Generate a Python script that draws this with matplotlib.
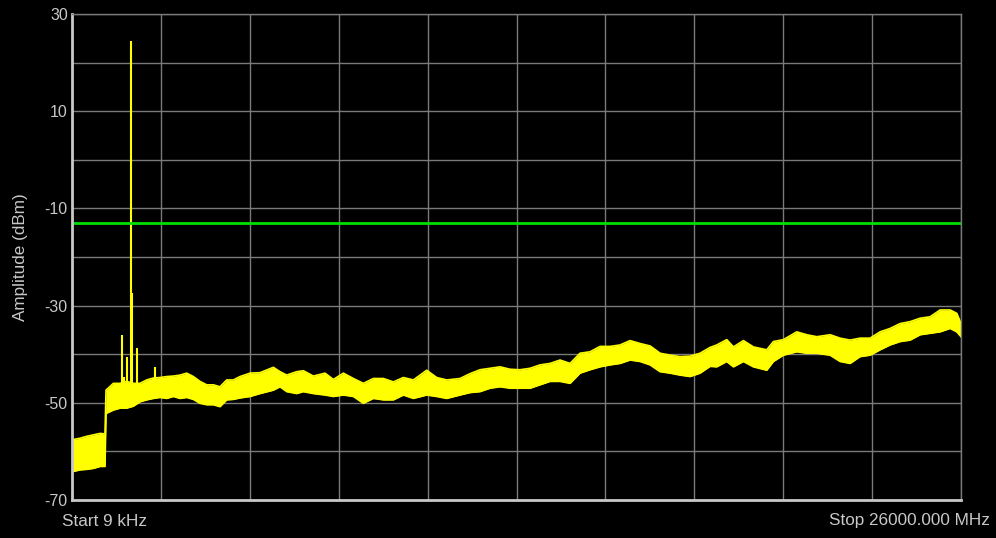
import numpy as np
import matplotlib.pyplot as plt

plt.rcParams['font.family'] = ['Liberation Sans', 'DejaVu Sans']

# trace envelope (MHz, dBm)
freq_mhz = [0.009, 234, 429, 624, 819, 965, 995, 1209, 1404, 1599, 1794, 1989, 2184,
            2379, 2574, 2769, 2964, 3159, 3354, 3549, 3744, 3939, 4134, 4329, 4524,
            4719, 4914, 5207, 5499, 5889, 6084, 6279, 6571, 6766, 7059, 7400, 7644,
            7936, 8229, 8521, 8814, 9106, 9399, 9691, 9984, 10374, 10666, 10959,
            11349, 11642, 11934, 12227, 12519, 12812, 13104, 13397, 13689, 13982,
            14274, 14567, 14859, 15152, 15444, 15737, 16029, 16322, 16614, 16907,
            17199, 17492, 17784, 18077, 18369, 18662, 18857, 19149, 19344, 19637,
            19929, 20319, 20514, 20807, 21197, 21489, 21782, 22172, 22464, 22757,
            23049, 23342, 23634, 23927, 24219, 24512, 24804, 25097, 25389, 25682,
            25877, 26000]
upper_dbm = [-57.6, -57.3, -56.9, -56.6, -56.3, -56.4, -47.4, -46.0, -46.0, -45.6, -46.0,
             -46.0, -45.3, -44.9, -44.8, -44.6, -44.5, -44.3, -43.9, -44.6, -45.6, -46.3,
             -46.3, -46.7, -45.3, -45.3, -44.6, -43.9, -43.8, -42.7, -43.6, -44.3, -43.6,
             -43.4, -44.5, -43.9, -45.2, -43.9, -45.0, -46.0, -45.0, -45.0, -45.7, -44.8,
             -45.3, -43.3, -44.8, -45.3, -45.0, -44.0, -43.2, -42.9, -42.6, -43.1, -43.2,
             -42.9, -42.2, -41.9, -41.2, -41.9, -39.8, -39.5, -38.4, -38.4, -38.1, -37.2,
             -37.8, -38.3, -39.8, -40.2, -40.5, -40.4, -39.8, -38.6, -38.1, -37.0, -38.5,
             -37.2, -38.5, -39.1, -37.4, -37.0, -35.4, -36.0, -36.4, -36.0, -36.7, -37.1,
             -36.7, -36.7, -35.4, -34.7, -33.7, -33.3, -32.6, -32.3, -30.9, -30.9, -31.6,
             -33.7]
lower_dbm = [-64.2, -63.8, -63.7, -63.5, -63.1, -63.1, -52.2, -51.5, -51.1, -51.1, -50.7,
             -49.8, -49.4, -49.1, -48.9, -49.1, -48.7, -49.1, -48.9, -49.3, -50.1, -50.4,
             -50.4, -50.8, -49.4, -49.3, -49.0, -48.7, -48.1, -47.4, -46.7, -47.7, -48.1,
             -47.7, -48.1, -48.4, -48.7, -48.4, -48.7, -50.1, -49.1, -49.4, -49.4, -48.4,
             -49.1, -48.4, -48.7, -49.1, -48.4, -47.9, -47.7, -47.0, -46.7, -47.0, -47.0,
             -47.0, -46.3, -45.6, -45.6, -46.0, -43.9, -43.2, -42.6, -42.2, -41.9, -41.2,
             -41.5, -42.2, -43.6, -43.9, -44.3, -44.6, -43.9, -42.5, -42.6, -41.5, -42.6,
             -41.5, -42.6, -43.3, -41.5, -40.2, -39.5, -39.8, -39.8, -40.2, -41.5, -41.9,
             -40.5, -40.2, -39.1, -38.1, -37.4, -37.1, -36.0, -35.7, -35.4, -34.7, -35.4,
             -36.4]

# discrete spurs
spur_mhz = [1370, 1460, 1530, 1600, 1726, 1745, 1892, 2440]
spur_dbm = [-45.9, -36.0, -44.6, -40.5, 24.4, -27.4, -38.8, -42.6]

limit_dbm = -13.0
f_start, f_stop = 0.009, 26000.0
y_ticks = [30, 10, -10, -30, -50, -70]

fig = plt.figure(figsize=(9.96, 5.38), dpi=100, facecolor='black')
ax = fig.add_axes([72 / 996, 38 / 538, 889 / 996, 486 / 538], facecolor='black')

yellow = '#ffff00'
ax.fill_between(freq_mhz, lower_dbm, upper_dbm, color=yellow, lw=0)
ax.plot(freq_mhz, upper_dbm, color=yellow, lw=1.2)
ax.plot(freq_mhz, lower_dbm, color=yellow, lw=1.2)
ax.vlines(spur_mhz, -48, spur_dbm, color=yellow, lw=1.5)

ax.axhline(limit_dbm, color='#00e000', lw=2)

ax.set_xlim(0, f_stop)
ax.set_ylim(-70, 30)
ax.set_xticks(np.linspace(0, f_stop, 11))
ax.set_xticklabels([])
ax.set_yticks(np.arange(-70, 31, 10))
ax.set_yticklabels([str(v) if v in y_ticks else '' for v in np.arange(-70, 31, 10)])
ax.tick_params(length=0, colors='#c8c8c8', labelsize=11.5, pad=3)
ax.grid(True, color='#7a7a7a', lw=1)
ax.set_axisbelow(True)

for side in ['top', 'right']:
    ax.spines[side].set_color('#7a7a7a')
    ax.spines[side].set_linewidth(1)
for side in ['left', 'bottom']:
    ax.spines[side].set_color('#c8c8c8')
    ax.spines[side].set_linewidth(2)

ax.set_ylabel('Amplitude (dBm)', color='#c8c8c8', fontsize=12.3, labelpad=12)
fig.text(62 / 996, 1 - 521 / 538, 'Start 9 kHz', color='#c8c8c8', fontsize=12.3,
         ha='left', va='center')
fig.text(990 / 996, 1 - 521 / 538, 'Stop 26000.000 MHz', color='#c8c8c8', fontsize=12.3,
         ha='right', va='center')

fig.savefig('out.png', dpi=100, facecolor='black')
